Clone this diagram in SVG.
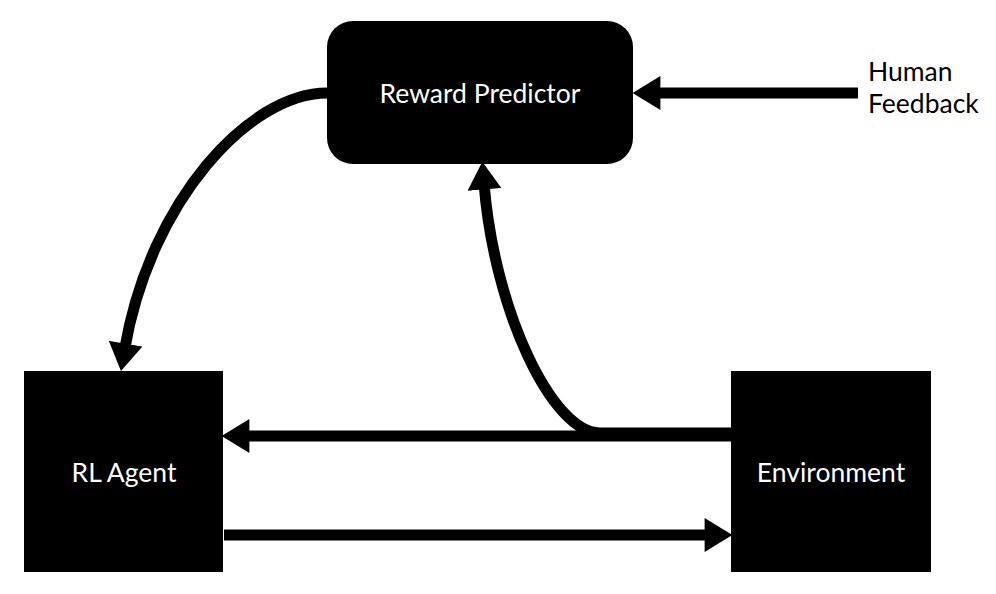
<svg xmlns="http://www.w3.org/2000/svg" width="996" height="594" viewBox="0 0 996 594">
<defs>
<style>
.node{fill:#000}
.lbl{fill:#fff;font-family:Lato,"Liberation Sans",sans-serif;font-size:26.5px;text-anchor:middle}
.ext{fill:#000;font-family:Lato,"Liberation Sans",sans-serif;font-size:26.5px}
.edge{fill:none;stroke:#000;stroke-width:11}
</style>
<marker id="ah" markerUnits="userSpaceOnUse" markerWidth="28" markerHeight="34" viewBox="0 0 26 32" refX="6" refY="16" orient="auto">
<path d="M0,0 L26,16 L0,32 Z" fill="#000"/>
</marker>
</defs>
<rect width="996" height="594" fill="#fff"/>
<g id="connectors">
<path class="edge" d="M858,93 L654,93" marker-end="url(#ah)"/>
<path class="edge" d="M731,436 L243,436" marker-end="url(#ah)"/>
<path class="edge" d="M224,535 L711,535" marker-end="url(#ah)"/>
<path class="edge" d="M327,93 C250,93 150,200 124.5,350" marker-end="url(#ah)"/>
<path class="edge" d="M731,433 L600,433 C552,433 494,310 484,183" marker-end="url(#ah)"/>
</g>
<g id="reward-predictor">
<rect class="node" x="327" y="21" width="306" height="143" rx="26"/>
<text class="lbl" x="480" y="103">Reward Predictor</text>
</g>
<g id="rl-agent">
<rect class="node" x="24" y="371" width="199" height="201"/>
<text class="lbl" x="124" y="482">RL Agent</text>
</g>
<g id="environment">
<rect class="node" x="731" y="371" width="200" height="201"/>
<text class="lbl" x="831" y="482">Environment</text>
</g>
<g id="human-feedback">
<text class="ext" x="868" y="81">Human</text>
<text class="ext" x="868" y="113">Feedback</text>
</g>
</svg>
